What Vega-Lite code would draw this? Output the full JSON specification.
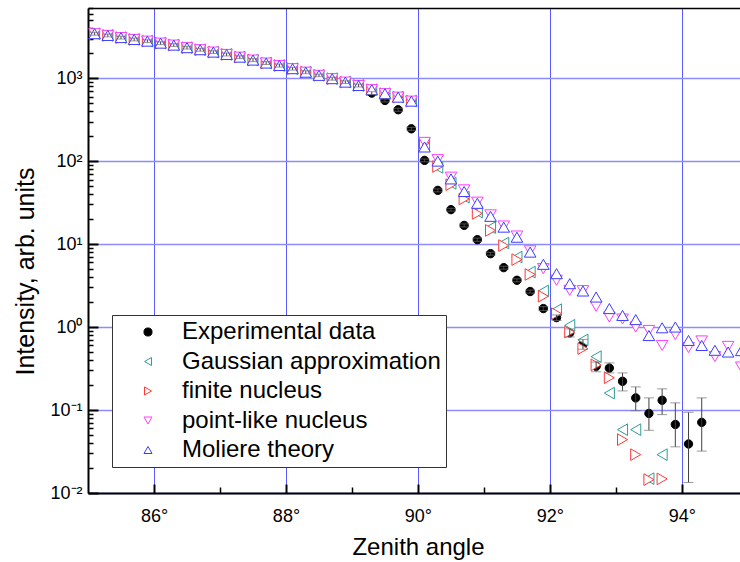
{
  "$schema": "https://vega.github.io/schema/vega-lite/v6.json",
  "width": 652,
  "height": 485,
  "autosize": {"type": "none"},
  "padding": {"left": 88, "top": 8, "right": 0, "bottom": 69},
  "background": "white",
  "config": {
    "view": {"stroke": null},
    "font": "Liberation Sans",
    "axis": {"labelFont": "Liberation Sans", "titleFont": "Liberation Sans", "labelColor": "black", "titleColor": "black", "titleFontWeight": "normal", "tickColor": "black", "domainColor": "black"},
    "legend": {
      "orient": "none", "legendX": 24, "legendY": 307, "direction": "vertical",
      "strokeColor": "#333", "strokeWidth": 1, "fillColor": "white", "padding": 5, "cornerRadius": 0,
      "labelFont": "Liberation Sans", "labelFontSize": 24, "labelColor": "black", "labelLimit": 400,
      "labelOffset": 22, "symbolOffset": 19, "symbolSize": 65, "symbolStrokeWidth": 1, "rowPadding": 5.5
    }
  },
  "datasets": {
    "exp": [
      {"x": 85.1, "y": 3430, "lo": 3290, "hi": 3570, "s": "Experimental data"},
      {"x": 85.3, "y": 3270, "lo": 3140, "hi": 3400, "s": "Experimental data"},
      {"x": 85.5, "y": 3080, "lo": 2960, "hi": 3200, "s": "Experimental data"},
      {"x": 85.7, "y": 2925, "lo": 2810, "hi": 3040, "s": "Experimental data"},
      {"x": 85.9, "y": 2790, "lo": 2680, "hi": 2900, "s": "Experimental data"},
      {"x": 86.1, "y": 2640, "lo": 2530, "hi": 2750, "s": "Experimental data"},
      {"x": 86.3, "y": 2500, "lo": 2400, "hi": 2600, "s": "Experimental data"},
      {"x": 86.5, "y": 2330, "lo": 2240, "hi": 2420, "s": "Experimental data"},
      {"x": 86.7, "y": 2200, "lo": 2110, "hi": 2290, "s": "Experimental data"},
      {"x": 86.9, "y": 2060, "lo": 1980, "hi": 2140, "s": "Experimental data"},
      {"x": 87.1, "y": 1930, "lo": 1850, "hi": 2010, "s": "Experimental data"},
      {"x": 87.3, "y": 1790, "lo": 1720, "hi": 1860, "s": "Experimental data"},
      {"x": 87.5, "y": 1650, "lo": 1580, "hi": 1720, "s": "Experimental data"},
      {"x": 87.7, "y": 1520, "lo": 1460, "hi": 1580, "s": "Experimental data"},
      {"x": 87.9, "y": 1420, "lo": 1360, "hi": 1480, "s": "Experimental data"},
      {"x": 88.1, "y": 1300, "lo": 1250, "hi": 1350, "s": "Experimental data"},
      {"x": 88.3, "y": 1180, "lo": 1130, "hi": 1230, "s": "Experimental data"},
      {"x": 88.5, "y": 1080, "lo": 1040, "hi": 1120, "s": "Experimental data"},
      {"x": 88.7, "y": 985, "lo": 945, "hi": 1025, "s": "Experimental data"},
      {"x": 88.9, "y": 895, "lo": 860, "hi": 930, "s": "Experimental data"},
      {"x": 89.1, "y": 815, "lo": 782, "hi": 848, "s": "Experimental data"},
      {"x": 89.3, "y": 660, "lo": 634, "hi": 686, "s": "Experimental data"},
      {"x": 89.5, "y": 538, "lo": 516, "hi": 560, "s": "Experimental data"},
      {"x": 89.7, "y": 416, "lo": 399, "hi": 433, "s": "Experimental data"},
      {"x": 89.9, "y": 245, "lo": 235, "hi": 255, "s": "Experimental data"},
      {"x": 90.1, "y": 102, "lo": 98, "hi": 106, "s": "Experimental data"},
      {"x": 90.3, "y": 44.4, "lo": 42.6, "hi": 46.2, "s": "Experimental data"},
      {"x": 90.5, "y": 26, "lo": 25, "hi": 27, "s": "Experimental data"},
      {"x": 90.7, "y": 16.8, "lo": 16.1, "hi": 17.5, "s": "Experimental data"},
      {"x": 90.9, "y": 11.3, "lo": 10.8, "hi": 11.8, "s": "Experimental data"},
      {"x": 91.1, "y": 7.66, "lo": 7.35, "hi": 7.97, "s": "Experimental data"},
      {"x": 91.3, "y": 5.2, "lo": 4.99, "hi": 5.41, "s": "Experimental data"},
      {"x": 91.5, "y": 3.66, "lo": 3.51, "hi": 3.81, "s": "Experimental data"},
      {"x": 91.7, "y": 2.68, "lo": 2.57, "hi": 2.79, "s": "Experimental data"},
      {"x": 91.9, "y": 1.67, "lo": 1.58, "hi": 1.76, "s": "Experimental data"},
      {"x": 92.1, "y": 1.3, "lo": 1.2, "hi": 1.4, "s": "Experimental data"},
      {"x": 92.3, "y": 0.85, "lo": 0.76, "hi": 0.95, "s": "Experimental data"},
      {"x": 92.5, "y": 0.62, "lo": 0.54, "hi": 0.71, "s": "Experimental data"},
      {"x": 92.7, "y": 0.336, "lo": 0.29, "hi": 0.38, "s": "Experimental data"},
      {"x": 92.9, "y": 0.32, "lo": 0.28, "hi": 0.37, "s": "Experimental data"},
      {"x": 93.1, "y": 0.222, "lo": 0.17, "hi": 0.28, "s": "Experimental data"},
      {"x": 93.3, "y": 0.14, "lo": 0.098, "hi": 0.19, "s": "Experimental data"},
      {"x": 93.5, "y": 0.091, "lo": 0.057, "hi": 0.14, "s": "Experimental data"},
      {"x": 93.7, "y": 0.131, "lo": 0.088, "hi": 0.18, "s": "Experimental data"},
      {"x": 93.9, "y": 0.067, "lo": 0.036, "hi": 0.122, "s": "Experimental data"},
      {"x": 94.1, "y": 0.039, "lo": 0.0134, "hi": 0.094, "s": "Experimental data"},
      {"x": 94.3, "y": 0.071, "lo": 0.032, "hi": 0.14, "s": "Experimental data"}
    ],
    "models": [
      {"x": 85.1, "y": 3430, "s": "Gaussian approximation"}, {"x": 85.3, "y": 3270, "s": "Gaussian approximation"}, {"x": 85.5, "y": 3080, "s": "Gaussian approximation"}, {"x": 85.7, "y": 2925, "s": "Gaussian approximation"}, {"x": 85.9, "y": 2790, "s": "Gaussian approximation"}, {"x": 86.1, "y": 2640, "s": "Gaussian approximation"}, {"x": 86.3, "y": 2500, "s": "Gaussian approximation"}, {"x": 86.5, "y": 2330, "s": "Gaussian approximation"}, {"x": 86.7, "y": 2200, "s": "Gaussian approximation"}, {"x": 86.9, "y": 2060, "s": "Gaussian approximation"}, {"x": 87.1, "y": 1930, "s": "Gaussian approximation"}, {"x": 87.3, "y": 1790, "s": "Gaussian approximation"}, {"x": 87.5, "y": 1650, "s": "Gaussian approximation"}, {"x": 87.7, "y": 1520, "s": "Gaussian approximation"}, {"x": 87.9, "y": 1420, "s": "Gaussian approximation"}, {"x": 88.1, "y": 1300, "s": "Gaussian approximation"}, {"x": 88.3, "y": 1180, "s": "Gaussian approximation"}, {"x": 88.5, "y": 1080, "s": "Gaussian approximation"}, {"x": 88.7, "y": 985, "s": "Gaussian approximation"}, {"x": 88.9, "y": 895, "s": "Gaussian approximation"}, {"x": 89.1, "y": 815, "s": "Gaussian approximation"}, {"x": 89.3, "y": 725, "s": "Gaussian approximation"}, {"x": 89.5, "y": 650, "s": "Gaussian approximation"}, {"x": 89.7, "y": 590, "s": "Gaussian approximation"}, {"x": 89.9, "y": 528, "s": "Gaussian approximation"},
      {"x": 90.1, "y": 160, "s": "Gaussian approximation"}, {"x": 90.3, "y": 84, "s": "Gaussian approximation"}, {"x": 90.5, "y": 54, "s": "Gaussian approximation"}, {"x": 90.7, "y": 36.8, "s": "Gaussian approximation"}, {"x": 90.9, "y": 24.3, "s": "Gaussian approximation"}, {"x": 91.1, "y": 15.8, "s": "Gaussian approximation"}, {"x": 91.3, "y": 10.3, "s": "Gaussian approximation"}, {"x": 91.5, "y": 6.97, "s": "Gaussian approximation"}, {"x": 91.7, "y": 4.6, "s": "Gaussian approximation"}, {"x": 91.9, "y": 2.72, "s": "Gaussian approximation"}, {"x": 92.1, "y": 1.62, "s": "Gaussian approximation"}, {"x": 92.3, "y": 1.05, "s": "Gaussian approximation"}, {"x": 92.5, "y": 0.7, "s": "Gaussian approximation"}, {"x": 92.7, "y": 0.44, "s": "Gaussian approximation"}, {"x": 92.9, "y": 0.16, "s": "Gaussian approximation"}, {"x": 93.1, "y": 0.058, "s": "Gaussian approximation"}, {"x": 93.3, "y": 0.058, "s": "Gaussian approximation"}, {"x": 93.5, "y": 0.0149, "s": "Gaussian approximation"}, {"x": 93.7, "y": 0.029, "s": "Gaussian approximation"},
      {"x": 85.1, "y": 3430, "s": "finite nucleus"}, {"x": 85.3, "y": 3270, "s": "finite nucleus"}, {"x": 85.5, "y": 3080, "s": "finite nucleus"}, {"x": 85.7, "y": 2925, "s": "finite nucleus"}, {"x": 85.9, "y": 2790, "s": "finite nucleus"}, {"x": 86.1, "y": 2640, "s": "finite nucleus"}, {"x": 86.3, "y": 2500, "s": "finite nucleus"}, {"x": 86.5, "y": 2330, "s": "finite nucleus"}, {"x": 86.7, "y": 2200, "s": "finite nucleus"}, {"x": 86.9, "y": 2060, "s": "finite nucleus"}, {"x": 87.1, "y": 1930, "s": "finite nucleus"}, {"x": 87.3, "y": 1790, "s": "finite nucleus"}, {"x": 87.5, "y": 1650, "s": "finite nucleus"}, {"x": 87.7, "y": 1520, "s": "finite nucleus"}, {"x": 87.9, "y": 1420, "s": "finite nucleus"}, {"x": 88.1, "y": 1300, "s": "finite nucleus"}, {"x": 88.3, "y": 1180, "s": "finite nucleus"}, {"x": 88.5, "y": 1080, "s": "finite nucleus"}, {"x": 88.7, "y": 985, "s": "finite nucleus"}, {"x": 88.9, "y": 895, "s": "finite nucleus"}, {"x": 89.1, "y": 815, "s": "finite nucleus"}, {"x": 89.3, "y": 725, "s": "finite nucleus"}, {"x": 89.5, "y": 650, "s": "finite nucleus"}, {"x": 89.7, "y": 590, "s": "finite nucleus"}, {"x": 89.9, "y": 528, "s": "finite nucleus"},
      {"x": 90.1, "y": 165, "s": "finite nucleus"}, {"x": 90.3, "y": 86, "s": "finite nucleus"}, {"x": 90.5, "y": 52, "s": "finite nucleus"}, {"x": 90.7, "y": 35, "s": "finite nucleus"}, {"x": 90.9, "y": 23.4, "s": "finite nucleus"}, {"x": 91.1, "y": 14.6, "s": "finite nucleus"}, {"x": 91.3, "y": 9.6, "s": "finite nucleus"}, {"x": 91.5, "y": 6.5, "s": "finite nucleus"}, {"x": 91.7, "y": 4.3, "s": "finite nucleus"}, {"x": 91.9, "y": 2.35, "s": "finite nucleus"}, {"x": 92.1, "y": 1.45, "s": "finite nucleus"}, {"x": 92.3, "y": 0.87, "s": "finite nucleus"}, {"x": 92.5, "y": 0.55, "s": "finite nucleus"}, {"x": 92.7, "y": 0.35, "s": "finite nucleus"}, {"x": 92.9, "y": 0.245, "s": "finite nucleus"}, {"x": 93.1, "y": 0.044, "s": "finite nucleus"}, {"x": 93.3, "y": 0.029, "s": "finite nucleus"}, {"x": 93.5, "y": 0.0145, "s": "finite nucleus"}, {"x": 93.7, "y": 0.0148, "s": "finite nucleus"},
      {"x": 85.1, "y": 3430, "s": "point-like nucleus"}, {"x": 85.3, "y": 3270, "s": "point-like nucleus"}, {"x": 85.5, "y": 3080, "s": "point-like nucleus"}, {"x": 85.7, "y": 2925, "s": "point-like nucleus"}, {"x": 85.9, "y": 2790, "s": "point-like nucleus"}, {"x": 86.1, "y": 2640, "s": "point-like nucleus"}, {"x": 86.3, "y": 2500, "s": "point-like nucleus"}, {"x": 86.5, "y": 2330, "s": "point-like nucleus"}, {"x": 86.7, "y": 2200, "s": "point-like nucleus"}, {"x": 86.9, "y": 2060, "s": "point-like nucleus"}, {"x": 87.1, "y": 1930, "s": "point-like nucleus"}, {"x": 87.3, "y": 1790, "s": "point-like nucleus"}, {"x": 87.5, "y": 1650, "s": "point-like nucleus"}, {"x": 87.7, "y": 1520, "s": "point-like nucleus"}, {"x": 87.9, "y": 1420, "s": "point-like nucleus"}, {"x": 88.1, "y": 1300, "s": "point-like nucleus"}, {"x": 88.3, "y": 1180, "s": "point-like nucleus"}, {"x": 88.5, "y": 1080, "s": "point-like nucleus"}, {"x": 88.7, "y": 985, "s": "point-like nucleus"}, {"x": 88.9, "y": 895, "s": "point-like nucleus"}, {"x": 89.1, "y": 815, "s": "point-like nucleus"}, {"x": 89.3, "y": 725, "s": "point-like nucleus"}, {"x": 89.5, "y": 650, "s": "point-like nucleus"}, {"x": 89.7, "y": 590, "s": "point-like nucleus"}, {"x": 89.9, "y": 528, "s": "point-like nucleus"},
      {"x": 90.1, "y": 168, "s": "point-like nucleus"}, {"x": 90.3, "y": 104, "s": "point-like nucleus"}, {"x": 90.5, "y": 64, "s": "point-like nucleus"}, {"x": 90.7, "y": 45, "s": "point-like nucleus"}, {"x": 90.9, "y": 32, "s": "point-like nucleus"}, {"x": 91.1, "y": 22.5, "s": "point-like nucleus"}, {"x": 91.3, "y": 16.5, "s": "point-like nucleus"}, {"x": 91.5, "y": 12.5, "s": "point-like nucleus"}, {"x": 91.7, "y": 8.3, "s": "point-like nucleus"}, {"x": 91.9, "y": 5.06, "s": "point-like nucleus"}, {"x": 92.1, "y": 3.66, "s": "point-like nucleus"}, {"x": 92.3, "y": 2.77, "s": "point-like nucleus"}, {"x": 92.5, "y": 2.75, "s": "point-like nucleus"}, {"x": 92.7, "y": 1.78, "s": "point-like nucleus"}, {"x": 92.9, "y": 1.32, "s": "point-like nucleus"}, {"x": 93.1, "y": 1.25, "s": "point-like nucleus"}, {"x": 93.3, "y": 1.0, "s": "point-like nucleus"}, {"x": 93.5, "y": 0.91, "s": "point-like nucleus"}, {"x": 93.7, "y": 0.6, "s": "point-like nucleus"}, {"x": 93.9, "y": 0.81, "s": "point-like nucleus"}, {"x": 94.1, "y": 0.565, "s": "point-like nucleus"}, {"x": 94.3, "y": 0.68, "s": "point-like nucleus"}, {"x": 94.5, "y": 0.44, "s": "point-like nucleus"}, {"x": 94.7, "y": 0.585, "s": "point-like nucleus"}, {"x": 94.9, "y": 0.33, "s": "point-like nucleus"},
      {"x": 85.1, "y": 3430, "s": "Moliere theory"}, {"x": 85.3, "y": 3270, "s": "Moliere theory"}, {"x": 85.5, "y": 3080, "s": "Moliere theory"}, {"x": 85.7, "y": 2925, "s": "Moliere theory"}, {"x": 85.9, "y": 2790, "s": "Moliere theory"}, {"x": 86.1, "y": 2640, "s": "Moliere theory"}, {"x": 86.3, "y": 2500, "s": "Moliere theory"}, {"x": 86.5, "y": 2330, "s": "Moliere theory"}, {"x": 86.7, "y": 2200, "s": "Moliere theory"}, {"x": 86.9, "y": 2060, "s": "Moliere theory"}, {"x": 87.1, "y": 1930, "s": "Moliere theory"}, {"x": 87.3, "y": 1790, "s": "Moliere theory"}, {"x": 87.5, "y": 1650, "s": "Moliere theory"}, {"x": 87.7, "y": 1520, "s": "Moliere theory"}, {"x": 87.9, "y": 1420, "s": "Moliere theory"}, {"x": 88.1, "y": 1300, "s": "Moliere theory"}, {"x": 88.3, "y": 1180, "s": "Moliere theory"}, {"x": 88.5, "y": 1080, "s": "Moliere theory"}, {"x": 88.7, "y": 985, "s": "Moliere theory"}, {"x": 88.9, "y": 895, "s": "Moliere theory"}, {"x": 89.1, "y": 815, "s": "Moliere theory"}, {"x": 89.3, "y": 725, "s": "Moliere theory"}, {"x": 89.5, "y": 650, "s": "Moliere theory"}, {"x": 89.7, "y": 590, "s": "Moliere theory"}, {"x": 89.9, "y": 528, "s": "Moliere theory"},
      {"x": 90.1, "y": 148, "s": "Moliere theory"}, {"x": 90.3, "y": 100, "s": "Moliere theory"}, {"x": 90.5, "y": 61, "s": "Moliere theory"}, {"x": 90.7, "y": 43, "s": "Moliere theory"}, {"x": 90.9, "y": 31, "s": "Moliere theory"}, {"x": 91.1, "y": 21.6, "s": "Moliere theory"}, {"x": 91.3, "y": 16.0, "s": "Moliere theory"}, {"x": 91.5, "y": 12.1, "s": "Moliere theory"}, {"x": 91.7, "y": 8.0, "s": "Moliere theory"}, {"x": 91.9, "y": 5.7, "s": "Moliere theory"}, {"x": 92.1, "y": 4.4, "s": "Moliere theory"}, {"x": 92.3, "y": 3.33, "s": "Moliere theory"}, {"x": 92.5, "y": 2.72, "s": "Moliere theory"}, {"x": 92.7, "y": 2.3, "s": "Moliere theory"}, {"x": 92.9, "y": 1.67, "s": "Moliere theory"}, {"x": 93.1, "y": 1.38, "s": "Moliere theory"}, {"x": 93.3, "y": 1.23, "s": "Moliere theory"}, {"x": 93.5, "y": 0.79, "s": "Moliere theory"}, {"x": 93.7, "y": 0.98, "s": "Moliere theory"}, {"x": 93.9, "y": 1.0, "s": "Moliere theory"}, {"x": 94.1, "y": 0.69, "s": "Moliere theory"}, {"x": 94.3, "y": 0.6, "s": "Moliere theory"}, {"x": 94.5, "y": 0.525, "s": "Moliere theory"}, {"x": 94.7, "y": 0.5, "s": "Moliere theory"}, {"x": 94.9, "y": 0.52, "s": "Moliere theory"}
    ]
  },
  "layer": [
    {
      "data": {"name": "exp"},
      "mark": {"type": "point", "filled": true, "size": 70, "strokeWidth": 1, "opacity": 1},
      "encoding": {
        "x": {"field": "x", "type": "quantitative", "scale": {"domain": [85, 94.88], "nice": false, "zero": false},
          "axis": {"orient": "bottom", "values": [86, 88, 90, 92, 94], "labelExpr": "datum.value + '°'", "tickSize": -9, "tickWidth": 2, "domainWidth": 2, "labelFontSize": 18, "labelPadding": 23, "labelFlush": false, "grid": true, "gridColor": "#5a5aff", "gridWidth": 1, "title": "Zenith angle", "titleFontSize": 24, "titleX": 330, "titleY": 61, "titleBaseline": "alphabetic"}},
        "y": {"field": "y", "type": "quantitative", "scale": {"type": "log", "domain": [0.01, 7000], "nice": false},
          "axis": {"orient": "left", "values": [0.01, 0.1, 1, 10, 100, 1000], "labelExpr": "datum.value >= 1000 ? '10³' : datum.value >= 100 ? '10²' : datum.value >= 10 ? '10¹' : datum.value >= 1 ? '10⁰' : datum.value >= 0.1 ? '10⁻¹' : '10⁻²'", "tickSize": -10, "tickWidth": 2, "domainWidth": 2, "labelFontSize": 18, "labelPadding": 16, "labelBaseline": "middle", "grid": true, "gridColor": "#8c8cff", "gridWidth": 1.5, "title": "Intensity, arb. units", "titleFontSize": 25, "titleX": -55, "titleY": 263, "titleBaseline": "alphabetic", "titleAlign": "center"}},
        "fill": {"field": "s", "type": "nominal", "scale": {"domain": ["Experimental data", "Gaussian approximation", "finite nucleus", "point-like nucleus", "Moliere theory"], "range": ["black", "white", "white", "white", "white"]}, "legend": {"title": null}},
        "stroke": {"field": "s", "type": "nominal", "scale": {"domain": ["Experimental data", "Gaussian approximation", "finite nucleus", "point-like nucleus", "Moliere theory"], "range": ["black", "#2f9c96", "#ff3838", "#ff3cff", "#3c3cff"]}, "legend": {"title": null}},
        "shape": {"field": "s", "type": "nominal", "scale": {"domain": ["Experimental data", "Gaussian approximation", "finite nucleus", "point-like nucleus", "Moliere theory"], "range": ["circle", "triangle-left", "triangle-right", "triangle-down", "triangle-up"]}, "legend": {"title": null}}
      }
    },
    {
      "data": {"name": "models"},
      "mark": {"type": "point", "filled": true, "size": 135, "strokeWidth": 1, "opacity": 1, "clip": true},
      "encoding": {
        "x": {"field": "x", "type": "quantitative", "scale": {"domain": [85, 94.88], "nice": false, "zero": false}, "axis": null},
        "y": {"field": "y", "type": "quantitative", "scale": {"type": "log", "domain": [0.01, 7000], "nice": false}, "axis": null},
        "fill": {"field": "s", "type": "nominal", "legend": {"title": null}},
        "stroke": {"field": "s", "type": "nominal", "legend": {"title": null}},
        "shape": {"field": "s", "type": "nominal", "legend": {"title": null}}
      }
    },
    {
      "data": {"name": "exp"},
      "mark": {"type": "rule", "color": "#404040", "strokeWidth": 1},
      "encoding": {
        "x": {"field": "x", "type": "quantitative", "axis": null},
        "y": {"field": "lo", "type": "quantitative", "axis": null},
        "y2": {"field": "hi"}
      }
    },
    {
      "data": {"name": "exp"},
      "mark": {"type": "tick", "orient": "horizontal", "color": "#707070", "size": 10, "thickness": 1},
      "encoding": {
        "x": {"field": "x", "type": "quantitative", "axis": null},
        "y": {"field": "lo", "type": "quantitative", "axis": null}
      }
    },
    {
      "data": {"name": "exp"},
      "mark": {"type": "tick", "orient": "horizontal", "color": "#707070", "size": 10, "thickness": 1},
      "encoding": {
        "x": {"field": "x", "type": "quantitative", "axis": null},
        "y": {"field": "hi", "type": "quantitative", "axis": null}
      }
    },
    {
      "data": {"name": "exp"},
      "mark": {"type": "point", "opacity": 0},
      "encoding": {
        "x": {"field": "x", "type": "quantitative",
          "axis": {"orient": "bottom", "values": [87, 89, 91, 93], "tickSize": -6, "tickWidth": 1.5, "labels": false, "domain": false, "grid": false, "title": null}},
        "y": {"field": "y", "type": "quantitative",
          "axis": {"orient": "left", "values": [0.02, 0.03, 0.04, 0.05, 0.06, 0.07, 0.08, 0.09, 0.2, 0.3, 0.4, 0.5, 0.6, 0.7, 0.8, 0.9, 2, 3, 4, 5, 6, 7, 8, 9, 20, 30, 40, 50, 60, 70, 80, 90, 200, 300, 400, 500, 600, 700, 800, 900, 2000, 3000, 4000, 5000, 6000, 7000], "tickSize": -5, "tickWidth": 1.5, "labels": false, "domain": false, "grid": false, "title": null}}
      }
    },
    {
      "data": {"name": "exp"},
      "mark": {"type": "point", "opacity": 0},
      "encoding": {
        "x": {"field": "x", "type": "quantitative",
          "axis": {"orient": "top", "ticks": false, "labels": false, "domain": true, "domainWidth": 1.5, "grid": false, "title": null}},
        "y": {"field": "y", "type": "quantitative", "axis": null}
      }
    }
  ],
  "resolve": {"axis": {"x": "independent", "y": "independent"}}
}
